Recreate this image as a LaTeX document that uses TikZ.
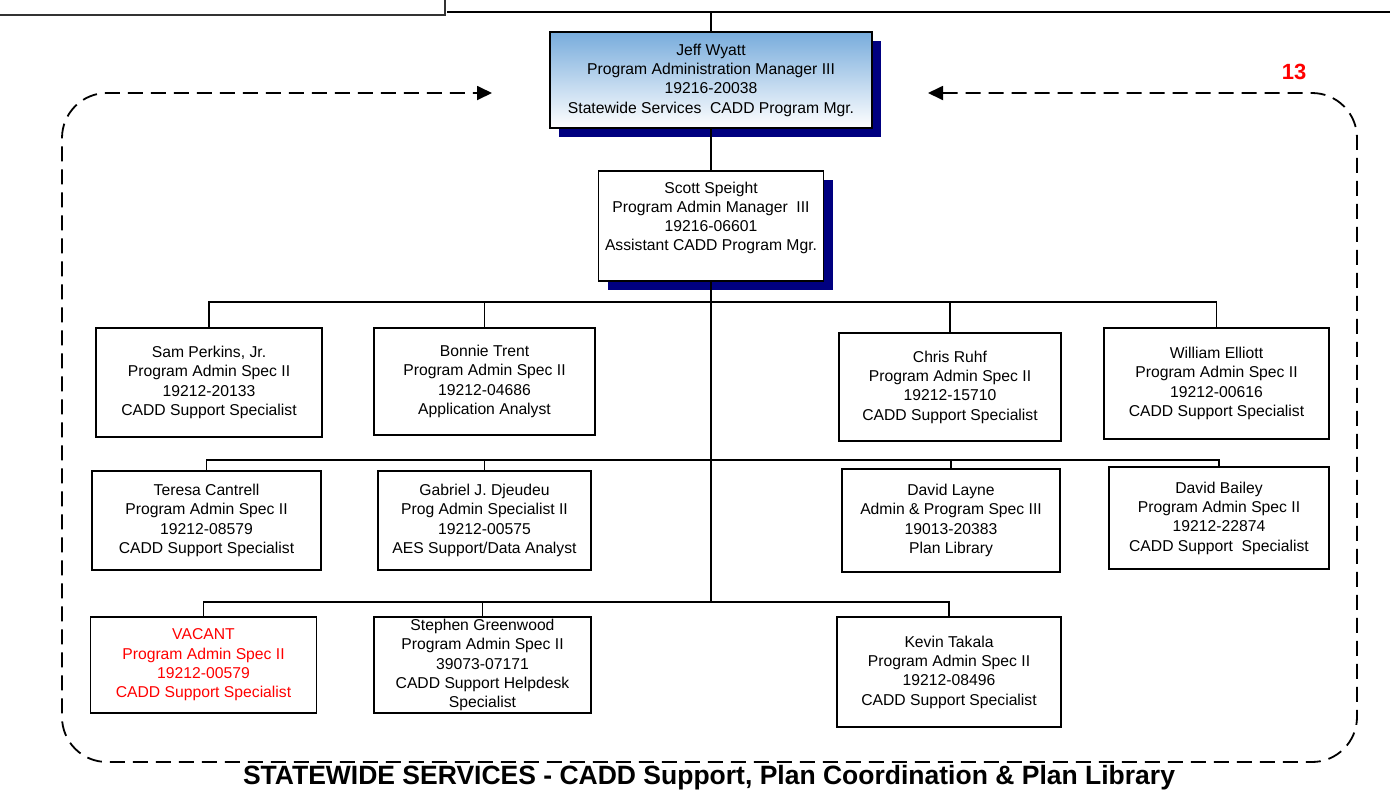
\documentclass[tikz,border=0pt]{standalone}
\usepackage{fontspec}
\setmainfont{Liberation Sans}
\usetikzlibrary{shadows,arrows.meta}
\definecolor{navyshadow}{RGB}{0,0,128}
\definecolor{bluetop}{RGB}{120,172,220}
\definecolor{vacred}{RGB}{255,0,0}
\tikzset{
 box/.style={draw=black, line width=1.7pt, fill=white, align=center, inner sep=0pt, font=\fontsize{15.7}{19.3}\selectfont},
 mgr/.style={box, drop shadow={shadow xshift=9pt, shadow yshift=-9pt, fill=navyshadow, opacity=1}},
 conn/.style={line width=1.7pt},
 loopline/.style={line width=1.8pt, dash pattern=on 15pt off 8pt, rounded corners=45pt, >={Triangle[length=15pt,width=14pt]}},
}
\begin{document}
\begin{tikzpicture}[x=1pt,y=-1pt]
\useasboundingbox (0,0) rectangle (1390,807);
% top remnants
\draw[line width=1.2pt, black!80] (0,15) -- (445,15) -- (445,0);
\coordinate (topbar) at (711,12);
\draw[line width=2.8pt] (447,12) -- (1390,12);

% managers
\node[mgr, top color=bluetop, bottom color=white, minimum width=322pt, minimum height=96pt] (jeff) at (711,80)
 {Jeff Wyatt\\Program Administration Manager III\\19216-20038\\Statewide Services\ \ CADD Program Mgr.};
\node[mgr, minimum width=225pt, minimum height=110pt] (scott) at (711,226)
 {Scott Speight\\Program Admin Manager\ \ III\\19216-06601\\Assistant CADD Program Mgr.\\\mbox{}};

% row 1
\node[box, minimum width=226pt, minimum height=109pt] (sam) at (209,382.5)
 {Sam Perkins, Jr.\\Program Admin Spec II\\19212-20133\\CADD Support Specialist};
\node[box, minimum width=221pt, minimum height=107pt] (bonnie) at (484.5,381.5)
 {Bonnie Trent\\Program Admin Spec II\\19212-04686\\Application Analyst};
\node[box, minimum width=222pt, minimum height=108pt] (chris) at (950,387)
 {Chris Ruhf\\Program Admin Spec II\\19212-15710\\CADD Support Specialist};
\node[box, minimum width=225pt, minimum height=111pt] (william) at (1216.5,383.5)
 {William Elliott\\Program Admin Spec II\\19212-00616\\CADD Support Specialist};

% row 2
\node[box, minimum width=229pt, minimum height=99pt] (teresa) at (206.5,520.5)
 {Teresa Cantrell\\Program Admin Spec II\\19212-08579\\CADD Support Specialist};
\node[box, minimum width=213pt, minimum height=99pt] (gabriel) at (484.5,520.5)
 {Gabriel J. Djeudeu\\Prog Admin Specialist II\\19212-00575\\AES Support/Data Analyst};
\node[box, minimum width=218pt, minimum height=103pt] (layne) at (951,520.5)
 {David Layne\\Admin \& Program Spec III\\19013-20383\\Plan Library};
\node[box, minimum width=220pt, minimum height=102pt] (bailey) at (1219,518)
 {David Bailey\\Program Admin Spec II\\19212-22874\\CADD Support\ \ Specialist};

% row 3
\node[box, text=vacred, minimum width=226pt, minimum height=96pt] (vacant) at (203.5,665)
 {VACANT\\Program Admin Spec II\\19212-00579\\CADD Support Specialist};
\node[box, minimum width=217pt, minimum height=96pt] (stephen) at (482.5,665)
 {Stephen Greenwood\\Program Admin Spec II\\39073-07171\\CADD Support Helpdesk\\Specialist};
\node[box, minimum width=224pt, minimum height=110pt] (kevin) at (949,672)
 {Kevin Takala\\Program Admin Spec II\\19212-08496\\CADD Support Specialist};

% connectors
\coordinate (b1) at (711,302);
\coordinate (b2) at (711,460);
\coordinate (b3) at (711,602);
\draw[conn] (topbar) -- (jeff.north);
\draw[conn] (jeff.south) -- (scott.north);
\draw[line width=2pt] (scott.south) -- (b3);
\draw[conn] (b1) -| (sam.north);
\draw[conn] (b1) -| (bonnie.north);
\draw[conn] (b1) -| (chris.north);
\draw[conn] (b1) -| (william.north);
\draw[conn] (b2) -| (teresa.north);
\draw[conn] (b2) -| (gabriel.north);
\draw[conn] (b2) -| (layne.north);
\draw[conn] (b2) -| (bailey.north);
\draw[conn] (b3) -| (vacant.north);
\draw[conn] (b3) -| (stephen.north);
\draw[conn] (b3) -| (kevin.north);

% dashed loop
\coordinate (arrL) at (492,93);
\coordinate (arrR) at (928,93);
\draw[loopline, <->] (arrR) -- (1357,93) -- (1357,762) -- (62,762) -- (62,93) -- (arrL);

% labels
\node[text=vacred, font=\bfseries\fontsize{22}{26}\selectfont] (num) at (1294,72) {13};
\node[font=\bfseries\fontsize{26.5}{30}\selectfont] (title) at (709,778)
 {STATEWIDE SERVICES - CADD Support, Plan Coordination \& Plan Library};
\end{tikzpicture}
\end{document}
